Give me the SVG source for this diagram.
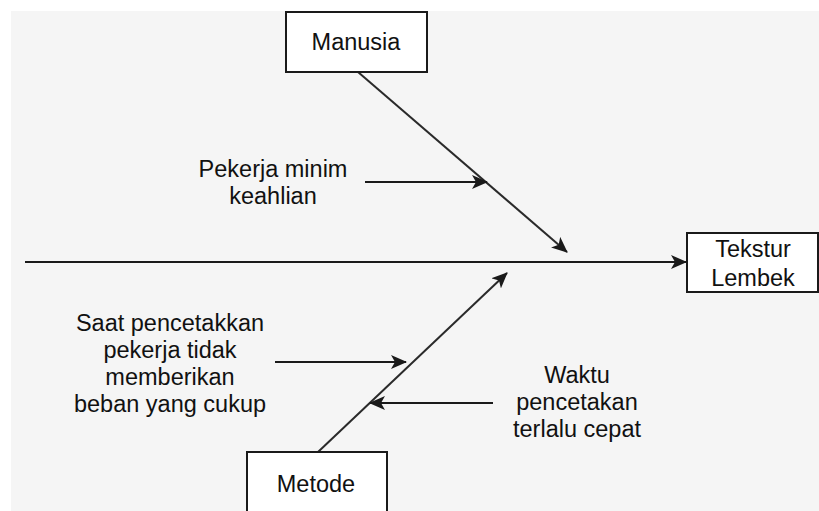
<svg xmlns="http://www.w3.org/2000/svg" width="819" height="511" viewBox="0 0 819 511">
  <defs>
    <style>
      .box { fill: #ffffff; stroke: #1a1a1a; stroke-width: 2; }
      .lbl { font-family: "Liberation Sans", Arial, sans-serif; font-size: 23.5px; fill: #111111; text-anchor: middle; }
      .ln { fill: none; stroke: #1a1a1a; stroke-width: 2; }
      .diag { fill: none; stroke: #2a2a2a; stroke-width: 2; }
    </style>
    <marker id="arr" viewBox="0 0 16 14" refX="15" refY="7" markerWidth="16" markerHeight="14" markerUnits="userSpaceOnUse" orient="auto">
      <path d="M0,0 L16,7 L0,14 L4,7 z" fill="#1a1a1a"/>
    </marker>
  </defs>
  <rect x="0" y="0" width="819" height="511" fill="#ffffff"/>
  <rect x="11" y="11" width="808" height="500" fill="#f5f5f5"/>

  <g id="connectors">
    <line class="ln" x1="25" y1="262" x2="686" y2="262" marker-end="url(#arr)"/>
    <line class="diag" x1="358" y1="72" x2="567" y2="252" marker-end="url(#arr)"/>
    <line class="diag" x1="318" y1="452" x2="507" y2="273" marker-end="url(#arr)"/>
    <line class="ln" x1="365" y1="182" x2="487" y2="182" marker-end="url(#arr)"/>
    <line class="ln" x1="275" y1="362" x2="406" y2="362" marker-end="url(#arr)"/>
    <line class="ln" x1="493" y1="403" x2="370" y2="403" marker-end="url(#arr)"/>
  </g>

  <g id="manusia">
    <rect class="box" x="286" y="12" width="141" height="60"/>
    <text class="lbl" x="356" y="50">Manusia</text>
  </g>

  <g id="tekstur">
    <rect class="box" x="687" y="233" width="131" height="59"/>
    <text class="lbl" x="753" y="257">Tekstur</text>
    <text class="lbl" x="753" y="286">Lembek</text>
  </g>

  <g id="metode">
    <rect class="box" x="247" y="452" width="140" height="62"/>
    <text class="lbl" x="316" y="492">Metode</text>
  </g>

  <g id="pekerja">
    <text class="lbl" x="273" y="177">Pekerja minim</text>
    <text class="lbl" x="273" y="204">keahlian</text>
  </g>

  <g id="saat">
    <text class="lbl" x="170" y="331">Saat pencetakkan</text>
    <text class="lbl" x="170" y="358">pekerja tidak</text>
    <text class="lbl" x="170" y="385">memberikan</text>
    <text class="lbl" x="170" y="412">beban yang cukup</text>
  </g>

  <g id="waktu">
    <text class="lbl" x="577" y="383">Waktu</text>
    <text class="lbl" x="577" y="410">pencetakan</text>
    <text class="lbl" x="577" y="437">terlalu cepat</text>
  </g>
</svg>
